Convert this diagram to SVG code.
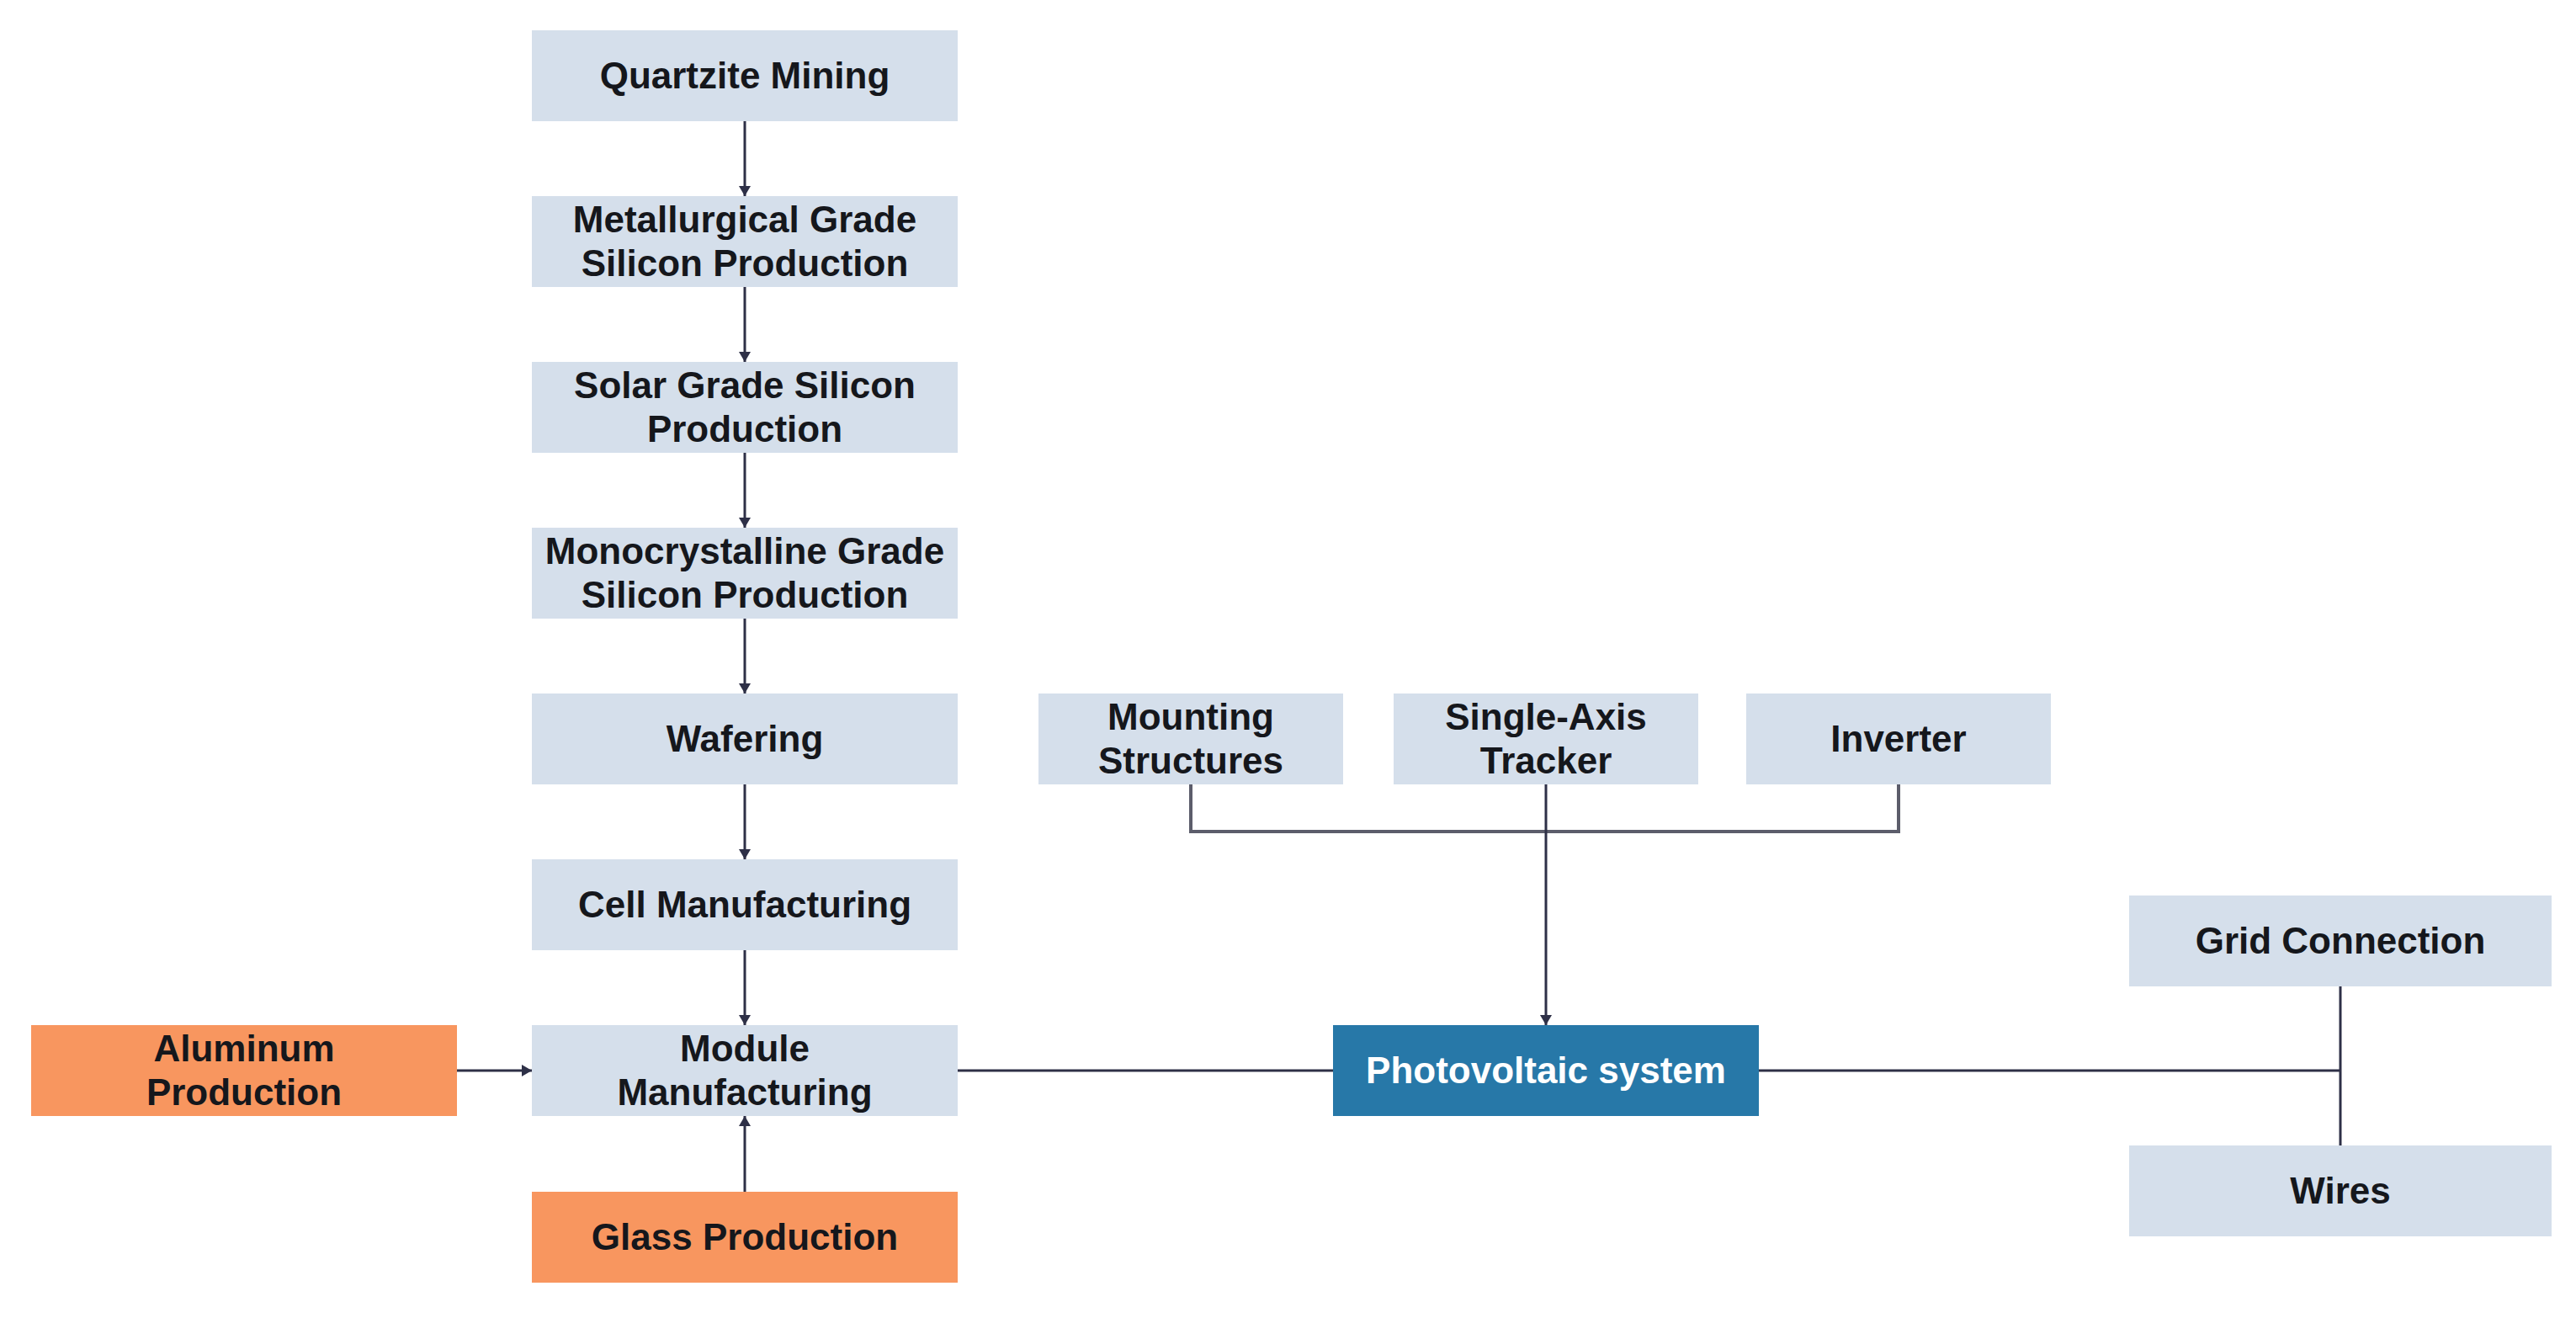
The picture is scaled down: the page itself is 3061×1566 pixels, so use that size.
<svg xmlns="http://www.w3.org/2000/svg" width="3061" height="1566" viewBox="0 0 3061 1566">
<style>
.box{fill:#d5dfeb}
.org{fill:#f8965f}
.pv{fill:#2778a8}
.t{font-family:"Liberation Sans",Arial,sans-serif;font-weight:bold;font-size:44px;fill:#15171c;text-anchor:middle}
.tw{fill:#ffffff}
.c{stroke:#2e3047;stroke-width:3;fill:none}
.g{stroke:#5c5d6b;stroke-width:4;fill:none}
</style>
<defs>
<marker id="ah" viewBox="0 0 12 14" refX="12" refY="7" markerWidth="12" markerHeight="14" markerUnits="userSpaceOnUse" orient="auto">
<path d="M0,0 L12,7 L0,14 z" fill="#2e3047"/>
</marker>
</defs>
<rect width="3061" height="1566" fill="#ffffff"/>
<g id="connectors">
<line class="c" x1="885" y1="144" x2="885" y2="233" marker-end="url(#ah)"/>
<line class="c" x1="885" y1="341" x2="885" y2="430" marker-end="url(#ah)"/>
<line class="c" x1="885" y1="538" x2="885" y2="627" marker-end="url(#ah)"/>
<line class="c" x1="885" y1="735" x2="885" y2="824" marker-end="url(#ah)"/>
<line class="c" x1="885" y1="932" x2="885" y2="1021" marker-end="url(#ah)"/>
<line class="c" x1="885" y1="1129" x2="885" y2="1218" marker-end="url(#ah)"/>
<line class="c" x1="543" y1="1272" x2="632" y2="1272" marker-end="url(#ah)"/>
<line class="c" x1="885" y1="1416" x2="885" y2="1326" marker-end="url(#ah)"/>
<line class="c" x1="1138" y1="1272" x2="1584" y2="1272"/>
<polyline class="g" points="1415,932 1415,988 2256,988 2256,932"/>
<line class="c" x1="1837" y1="932" x2="1837" y2="1218" marker-end="url(#ah)"/>
<line class="c" x1="2090" y1="1272" x2="2781" y2="1272"/>
<line class="c" x1="2781" y1="1172" x2="2781" y2="1361"/>
</g>
<g id="n-quartzite"><rect class="box" x="632" y="36" width="506" height="108"/><text class="t" x="885" y="105">Quartzite Mining</text></g>
<g id="n-metallurgical"><rect class="box" x="632" y="233" width="506" height="108"/><text class="t" x="885" y="276">Metallurgical Grade</text><text class="t" x="885" y="328">Silicon Production</text></g>
<g id="n-solar"><rect class="box" x="632" y="430" width="506" height="108"/><text class="t" x="885" y="473">Solar Grade Silicon</text><text class="t" x="885" y="525">Production</text></g>
<g id="n-mono"><rect class="box" x="632" y="627" width="506" height="108"/><text class="t" x="885" y="670">Monocrystalline Grade</text><text class="t" x="885" y="722">Silicon Production</text></g>
<g id="n-wafering"><rect class="box" x="632" y="824" width="506" height="108"/><text class="t" x="885" y="893">Wafering</text></g>
<g id="n-cell"><rect class="box" x="632" y="1021" width="506" height="108"/><text class="t" x="885" y="1090">Cell Manufacturing</text></g>
<g id="n-module"><rect class="box" x="632" y="1218" width="506" height="108"/><text class="t" x="885" y="1261">Module</text><text class="t" x="885" y="1313">Manufacturing</text></g>
<g id="n-aluminum"><rect class="org" x="37" y="1218" width="506" height="108"/><text class="t" x="290" y="1261">Aluminum</text><text class="t" x="290" y="1313">Production</text></g>
<g id="n-glass"><rect class="org" x="632" y="1416" width="506" height="108"/><text class="t" x="885" y="1485">Glass Production</text></g>
<g id="n-mounting"><rect class="box" x="1234" y="824" width="362" height="108"/><text class="t" x="1415" y="867">Mounting</text><text class="t" x="1415" y="919">Structures</text></g>
<g id="n-tracker"><rect class="box" x="1656" y="824" width="362" height="108"/><text class="t" x="1837" y="867">Single-Axis</text><text class="t" x="1837" y="919">Tracker</text></g>
<g id="n-inverter"><rect class="box" x="2075" y="824" width="362" height="108"/><text class="t" x="2256" y="893">Inverter</text></g>
<g id="n-pv"><rect class="pv" x="1584" y="1218" width="506" height="108"/><text class="t tw" x="1837" y="1287">Photovoltaic system</text></g>
<g id="n-grid"><rect class="box" x="2530" y="1064" width="502" height="108"/><text class="t" x="2781" y="1133">Grid Connection</text></g>
<g id="n-wires"><rect class="box" x="2530" y="1361" width="502" height="108"/><text class="t" x="2781" y="1430">Wires</text></g>
</svg>
